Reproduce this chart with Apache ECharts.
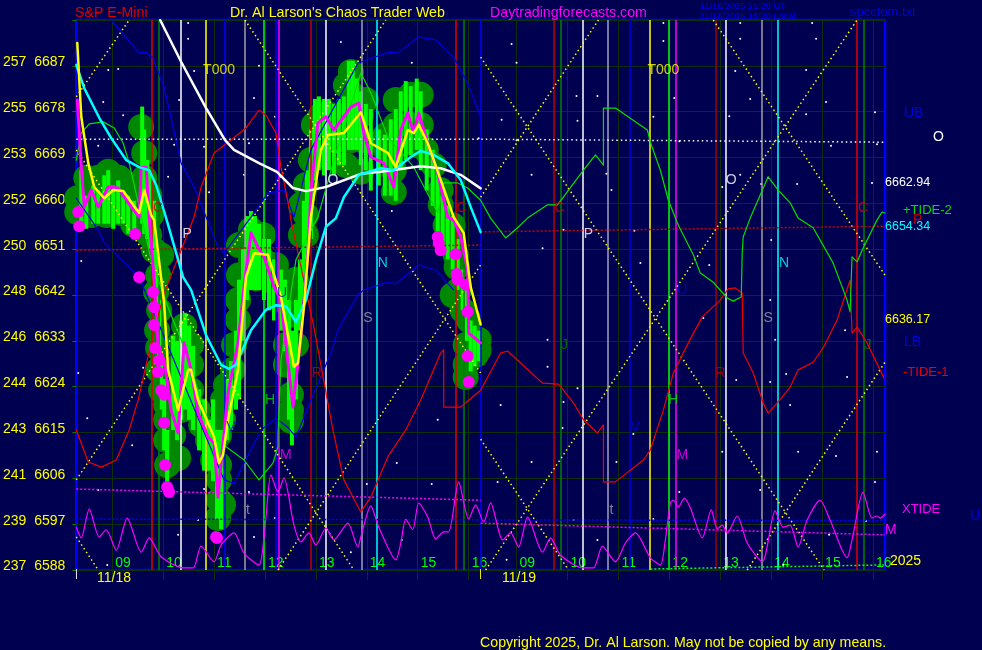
<!DOCTYPE html>
<html><head><meta charset="utf-8">
<style>html,body{margin:0;padding:0;background:#000050}#c{width:982px;height:650px}</style>
<script src="https://cdn.jsdelivr.net/npm/echarts@6/dist/echarts.min.js"></script>
</head><body><div id="c"></div>
<script>
// Horizontal axis unit: one chart bar. Vertical axis: S&P E-Mini price.
const priceTicks=[6588,6597,6606,6615,6624,6633,6642,6651,6660,6669,6678,6687];
const degreeTicks=[237,239,241,243,244,246,248,250,252,253,255,257];
const hourTicks=[36,87,138,189,240,291,342,393,441,492,543,594,645,696,747,798];
const hourLabels=['09','10','11','12','13','14','15','16','09','10','11','12','13','14','15','16'];
const verticalBars=[76,83,105,130,149,169,188,200,203,235,250,286,301,380,388,405,478,485,507,532,554,574,593,600,640,650,687,703,782,789];
const verticalColors=['#e00000','#008000','#ffffff','#ffff00','#0000ff','#a0a0a0','#00ff00','#0000ff','#ff00ff','#c00000','#ffffff','#a0a0c0','#00ffff','#e00000','#008000','#0000ff','#c00000','#008000','#ffffff','#a0a0c0','#0000e0','#ffff00','#00ff00','#ff00ff','#a00000','#ffffff','#a0a0a0','#00ffff','#e00000','#008000'];

const closeLine=[[1,6680.3],[5,6667.1],[8,6659.3],[15,6662.6],[22,6659.3],[32,6663.2],[42,6663],[55,6659.3],[63,6657.3],[65,6667.1],[70,6667.1],[73,6657.3],[78,6644.9],[82,6631.8],[88,6629.2],[95,6619.4],[102,6614.9],[108,6632.6],[115,6627.3],[122,6618.8],[132,6614.1],[138,6612.9],[142,6602.3],[145,6609],[152,6622.8],[162,6632.6],[168,6643.6],[175,6654.2],[182,6651.4],[188,6649.5],[198,6643.6],[205,6641],[217,6620],[225,6633.8],[232,6650.2],[235,6662],[242,6675.8],[250,6677],[258,6674.4],[268,6677],[275,6678.9],[283,6679.7],[288,6673.8],[295,6669.1],[308,6667.9],[318,6663.2],[325,6674.4],[332,6677.7],[338,6673.8],[343,6677.7],[352,6671.8],[362,6666],[372,6657.3],[378,6656.7],[385,6653.4],[392,6646.9],[393,6634.5],[405,6632.6]];
const fastAverage=[[1,6691.5],[5,6677],[12,6667.9],[18,6663.2],[28,6661],[37,6662.6],[47,6662.4],[63,6658.1],[68,6662.6],[75,6657.7],[78,6656.7],[88,6640.4],[92,6627.3],[102,6619.4],[112,6627.3],[115,6627.3],[122,6621.4],[138,6614.1],[143,6609],[147,6610.6],[152,6617.5],[162,6627.3],[170,6645.5],[178,6650.2],[192,6649.9],[205,6641.6],[218,6627.9],[222,6628.6],[228,6639.6],[235,6657.3],[245,6670.5],[252,6673.4],[268,6673.8],[285,6677.9],[295,6671.8],[312,6669.9],[320,6667.1],[332,6674.4],[338,6673.8],[343,6675.4],[352,6671.8],[365,6664.6],[378,6657.3],[388,6654.2],[395,6643.6],[405,6636.2]];
const cyanAverage=[[0,6687.2],[8,6682.6],[23,6676.8],[35,6672.8],[50,6668.5],[63,6667.1],[73,6666.5],[80,6663.6],[90,6657.1],[107,6645.5],[115,6643],[130,6634.1],[145,6628.3],[153,6627.5],[160,6628.3],[175,6635.1],[190,6639.1],[200,6640],[210,6639.8],[220,6636.7],[230,6641],[240,6648.9],[250,6655.4],[260,6657.1],[268,6661.2],[283,6665.6],[305,6666.9],[318,6666.5],[335,6669.1],[345,6670.3],[358,6669.5],[372,6667.9],[385,6664.6],[395,6659.3],[405,6654.34]];
const whiteAverage=[[84,6696],[105,6687.8],[130,6678.7],[149,6672.4],[158,6670.5],[183,6667.9],[201,6666.2],[217,6663],[230,6662.4],[250,6663.2],[285,6665.8],[305,6666.2],[345,6667.3],[365,6666.9],[385,6665.6],[405,6662.94]];
const tideTwo=[[0,6668.5],[5,6673.8],[13,6675.6],[27,6676],[38,6674.8],[47,6671.8],[53,6667.9],[63,6659.3],[75,6648.9],[93,6639],[105,6633.2],[138,6613.9],[150,6612.2],[168,6609.6],[183,6605.7],[197,6609],[202,6612.2],[202,6614.5],[205,6629.2],[220,6648.9],[242,6657.3],[258,6668.5],[285,6685.6],[295,6681.7],[312,6673],[338,6667.1],[362,6658.1],[368,6664],[382,6664],[392,6663],[405,6660.6],[415,6657.1],[430,6653.2],[442,6655.2],[452,6657.1],[472,6659.7],[482,6659.7],[508,6666.5],[520,6669.5],[528,6667.5],[528,6678.7],[540,6678.7],[572,6674.4],[575,6672],[585,6666.5],[593,6660.6],[603,6655.7],[618,6649.9],[625,6646.3],[638,6644.5],[652,6641.4],[658,6640.8],[666,6641.6],[667,6650.2],[668,6653.4],[675,6657.1],[693,6665.2],[703,6662.6],[715,6660.1],[723,6657.1],[738,6655.2],[758,6648.3],[772,6641],[775,6638.7],[777,6649.5],[782,6648.5],[788,6651.2],[802,6656.7],[807,6658.3],[810,6658.1]];
const tideOne=[[0,6615.5],[12,6609.2],[25,6608.2],[40,6609.6],[53,6615.5],[62,6621.4],[75,6632.6],[88,6642.4],[105,6650.8],[118,6657.3],[125,6663.2],[138,6669.9],[152,6672],[170,6674.8],[183,6678.3],[190,6677.3],[200,6673.8],[205,6667.1],[213,6659.3],[215,6656.7],[238,6635.7],[257,6615.5],[268,6605.7],[285,6599.4],[295,6602.3],[312,6610.2],[330,6615.5],[345,6621.4],[365,6630.6],[368,6631.2],[368,6620],[385,6620],[405,6623.3],[425,6630.6],[432,6631],[442,6629.2],[467,6624.7],[483,6624.5],[498,6620.8],[508,6617.5],[522,6614.9],[528,6616.5],[528,6605.3],[540,6605.3],[568,6609.6],[575,6611.6],[588,6619.4],[598,6626.7],[613,6632.6],[627,6637.7],[645,6641],[653,6643.2],[660,6643.4],[667,6642.4],[668,6630.6],[678,6626.7],[688,6620.8],[693,6618.8],[703,6621],[715,6623.9],[723,6627.3],[738,6628.8],[748,6631.6],[762,6637.1],[775,6644.9],[777,6634.5],[782,6635.7],[792,6632.6],[805,6627.3],[809,6625.7]];
const upperBand=[[35,6696],[63,6689.5],[70,6689.7],[77,6688.5],[88,6682.8],[105,6667.9],[118,6663.2],[130,6657.3],[142,6651.4],[148,6650.2],[175,6657.3],[192,6662],[208,6662.6],[218,6657.3],[235,6670.5],[282,6687.5],[313,6689.7],[322,6689.5],[343,6692.7],[360,6692.1],[378,6688.7],[392,6683.6],[405,6677]];
const lowerBand=[[0,6661],[22,6654.8],[28,6652.2],[63,6645.5],[148,6605.7],[158,6605],[168,6609],[185,6615.5],[200,6617.8],[212,6616],[220,6614.1],[235,6621.4],[255,6630.6],[262,6635.1],[282,6642],[288,6643],[312,6644.5],[320,6644.2],[343,6647.9],[360,6646.9],[378,6643]];
const xTide=[[0,6596.4],[5,6594.3],[13,6600],[23,6594.5],[30,6595.9],[40,6591.9],[51,6598.2],[65,6591.5],[73,6594.3],[85,6590.6],[107,6588.4],[117,6588.4],[125,6592.7],[138,6589.6],[145,6592.9],[158,6595.3],[168,6591.3],[183,6589],[188,6594.3],[190,6598.4],[195,6606.7],[202,6603.3],[208,6606.1],[218,6596.8],[225,6593.5],[233,6595.3],[240,6592.9],[250,6596.2],[258,6593.9],[272,6597.2],[282,6592.5],[285,6594.5],[295,6600.6],[303,6596.4],[320,6590],[325,6593.3],[330,6598],[337,6595.9],[343,6601.2],[352,6598.4],[360,6594.1],[368,6595.5],[373,6595.5],[383,6605.3],[393,6598],[400,6600.8],[408,6597.4],[415,6601.2],[427,6593.9],[435,6595.3],[443,6592.5],[452,6598.4],[467,6591.5],[475,6594.3],[485,6590.9],[508,6588.4],[518,6588.4],[527,6592.7],[540,6589.6],[550,6593.3],[560,6595.3],[575,6590.4],[585,6589],[590,6593.9],[595,6601.2],[598,6601.7],[603,6600.4],[609,6602.1],[615,6600.2],[627,6594.3],[636,6599.8],[642,6596.1],[647,6596.8],[652,6595.3],[662,6598.6],[672,6593.3],[687,6589.6],[700,6599.6],[708,6596.4],[715,6596.8],[723,6592.5],[732,6597.8],[745,6601.7],[755,6597.8],[772,6590.4],[777,6593.9],[788,6603.3],[797,6598.2],[802,6598.6],[805,6598.2],[810,6599]];
const bubblePoints=[[1,6661],[1,6658.3],[10,6665],[10,6660.6],[15,6657.7],[22,6665],[22,6661],[30,6657.7],[32,6666.2],[33,6661.6],[43,6665],[45,6661],[45,6658.1],[55,6663.6],[57,6658.7],[57,6655.9],[65,6675],[68,6669.9],[68,6665],[73,6661.6],[75,6657.7],[73,6653.8],[78,6650.8],[85,6649.8],[82,6645.9],[80,6642.6],[83,6639],[81,6635.1],[82,6631.6],[82,6627.3],[85,6623.3],[90,6620.4],[90,6617.5],[90,6613.5],[97,6614.5],[91,6608.6],[102,6610],[108,6635.9],[103,6632.2],[115,6632.2],[103,6628.3],[115,6628.3],[100,6623.3],[115,6623.3],[105,6619.4],[122,6619.4],[132,6613.5],[143,6614.5],[125,6616.5],[137,6609.6],[143,6608.6],[143,6601.7],[143,6605.7],[147,6600.8],[142,6598.2],[147,6621.4],[147,6617.5],[150,6624.3],[157,6627.3],[158,6632.2],[162,6637.1],[162,6641],[163,6645.9],[163,6651.8],[175,6654.8],[187,6653.8],[175,6648.9],[187,6648.9],[180,6645.3],[198,6644.6],[200,6647.9],[205,6641],[220,6645],[218,6641],[215,6638.1],[220,6632.2],[210,6632.2],[210,6628.3],[215,6622.4],[215,6619.4],[215,6617.3],[225,6653.8],[230,6653.8],[230,6657.7],[225,6659.7],[230,6663.6],[235,6668.5],[238,6675.4],[245,6677.3],[255,6677.3],[270,6677.3],[285,6677.3],[290,6680.3],[275,6685.8],[270,6683.2],[277,6681.3],[260,6672.4],[275,6672.4],[287,6672.4],[270,6667.5],[285,6666.2],[310,6673.4],[310,6670.5],[318,6666.5],[318,6662.2],[320,6680.3],[335,6681.3],[345,6681.3],[320,6675.4],[335,6675.4],[345,6675.4],[340,6671.5],[350,6670.5],[358,6667.5],[365,6662.6],[365,6659.7],[370,6655.7],[377,6655.7],[375,6652.8],[380,6649.8],[381,6647.5],[383,6643],[377,6642],[387,6639],[393,6637.1],[390,6632.2],[403,6633.2],[403,6631.2],[400,6630.2],[390,6628.3],[390,6625.9]];
const rangeBars=[[5,6655,6666.5],[10,6655,6661.5],[17,6656,6663.5],[22,6656,6662.5],[28,6656,6665.5],[32,6656,6666.5],[37,6655,6663.5],[42,6656,6664.5],[47,6656,6662.5],[52,6654,6661.5],[58,6653,6660.5],[66,6656,6679],[68,6654,6674.5],[71,6653,6668.5],[74,6651,6666.5],[78,6645,6660.5],[81,6637,6651],[83,6627,6641],[85,6619.5,6631],[88,6611.5,6625.5],[91,6603.5,6615.5],[97,6615.5,6634],[101,6613.5,6633],[105,6617.5,6637],[109,6619.5,6638.5],[113,6617.5,6636],[117,6615.5,6632],[123,6611.5,6623.5],[128,6607.5,6621.5],[133,6607.5,6617.5],[137,6605.5,6621.5],[141,6598,6615.5],[145,6596,6615.5],[151,6613.5,6625.5],[155,6615.5,6629],[160,6619.5,6635],[163,6621.5,6645],[167,6633,6651],[171,6641,6657.5],[175,6643,6658.5],[179,6643,6657.5],[183,6643,6656],[188,6641,6653],[193,6639,6653],[198,6637,6649],[205,6635,6647],[209,6631,6645],[213,6617.5,6641],[216,6612.5,6635],[220,6621.5,6641],[224,6635,6649],[228,6641,6660.5],[231,6649,6666.5],[235,6653,6674.5],[239,6664.5,6680.5],[243,6666.5,6681],[248,6665.5,6680.5],[253,6666.5,6680.5],[258,6665.5,6679.5],[263,6667.5,6680.5],[268,6667.5,6681],[273,6670.5,6688],[277,6670.5,6688],[281,6670.5,6684.5],[285,6667.5,6682],[290,6666.5,6679.5],[295,6662.5,6678.5],[303,6663.5,6674.5],[309,6661.5,6673.5],[315,6661.5,6676.5],[320,6660.5,6678.5],[325,6666.5,6682],[330,6668.5,6684],[335,6669.5,6683],[341,6670.5,6684.5],[345,6666.5,6682],[351,6662.5,6674.5],[357,6659.5,6670.5],[362,6653,6666.5],[367,6651,6662.5],[372,6649,6659.5],[377,6647,6657.5],[382,6643,6653],[387,6639,6647],[391,6633,6643],[395,6627,6637],[399,6628,6636],[403,6629,6635]];
const pivotDots=[[2,6658.3],[3,6655.5],[59,6654],[63,6645.5],[77,6642.6],[78,6639.6],[78,6636.1],[79,6631.6],[83,6629.2],[82,6626.9],[85,6623.3],[88,6622.4],[88,6616.9],[89,6608.6],[91,6604.3],[93,6603.3],[140,6594.5],[141,6594.3],[362,6653.4],[363,6652.2],[365,6650.8],[380,6650],[381,6646.1],[382,6645],[390,6644],[392,6638.7],[392,6630],[393,6624.9]];
const stars=[[112,6695.4],[112,6692.3],[32,6686.2],[42,6686.4],[118,6686],[27,6679.9],[103,6680.3],[47,6677.3],[178,6680.7],[199,6677],[22,6671.3],[98,6671.5],[128,6671.1],[173,6671.8],[183,6687],[168,6665.6],[92,6665.2],[133,6662.2],[240,6658.3],[5,6648.7],[2,6626.7],[11,6617.8],[67,6627.7],[98,6628.3],[230,6632],[56,6612.5],[22,6603.7],[31,6589],[102,6594.9],[122,6597.8],[128,6603.9],[173,6603.3],[178,6594.5],[199,6598.2],[265,6691.7],[436,6691.3],[441,6687.6],[336,6687.6],[501,6681.1],[522,6681.1],[426,6676.4],[502,6676.2],[403,6672.8],[441,6672.4],[456,6665.6],[531,6665.8],[536,6662.6],[316,6658.5],[467,6651.2],[488,6654.8],[559,6654.6],[565,6648.3],[472,6633.2],[472,6627.9],[502,6623.7],[425,6620.4],[488,6621],[487,6615.9],[558,6614.7],[541,6609.2],[362,6617.5],[321,6609],[456,6609.2],[356,6604.9],[422,6605.3],[326,6593.9],[431,6590],[291,6604.9],[275,6591.5],[522,6593.9],[498,6597.8],[588,6695.4],[588,6691.9],[599,6680.7],[578,6677],[665,6695.4],[665,6692.3],[660,6686],[675,6680.5],[654,6677.1],[604,6672.2],[665,6665.6],[731,6686.2],[737,6695.4],[741,6692.3],[751,6679.9],[731,6677.5],[800,6677.9],[802,6671.6],[756,6671.3],[797,6664],[722,6663.8],[647,6663.2],[686,6663.8],[693,6665],[634,6647.9],[628,6637.5],[696,6652.8],[695,6641],[700,6633.2],[711,6626.5],[661,6625.3],[695,6624.9],[772,6625.9],[715,6620.4],[770,6635.1],[604,6603.3],[647,6611.2],[723,6611.2],[685,6603.7],[761,6610.4],[802,6611.2],[800,6605.3],[578,6598],[754,6594.9],[708,6589],[791,6597.6]];
const gannLines=[[[0,6680.9],[53,6696]],[[0,6670.5],[278,6588]],[[0,6605.7],[310,6696]],[[0,6594.5],[22,6588]],[[169,6696],[405,6626.7]],[[202,6588],[405,6647.9]],[[405,6688.7],[749,6588]],[[410,6588],[782,6696]],[[405,6661.2],[523,6696]],[[405,6613.7],[493,6588]],[[638,6696],[810,6645.9]],[[672,6588],[810,6628.8]]];
const levelWhite=[[0,6672.6],[405,6672.6],[810,6672]];
const levelRedA=[[0,6650.8],[405,6651.8]];
const levelRedB=[[405,6654.4],[810,6655.5]];
const levelMagentaA=[[0,6603.9],[405,6601.7]];
const levelMagentaB=[[405,6597.2],[810,6594.9]];
const levelBlue=[[0,6598],[810,6597.7]];
const levelGreen=[[575,6588.2],[810,6589]];
const markerTexts=['T000','T000','P','P','O','O','N','N','S','S','C','C','C','C','R','R','H','H','M','M','J','J','t','t','U','U','V','V'];
const markerColors=['#ffff00','#ffff00','#ffffff','#ffffff','#ffffff','#ffffff','#00ffff','#00ffff','#a0a0a0','#a0a0a0','#e00000','#e00000','#e00000','#e00000','#c00000','#c00000','#00e000','#00e000','#ff00ff','#ff00ff','#008000','#008000','#a0a0a0','#a0a0a0','#0000e0','#0000e0','#0000e0','#0000e0'];
const markerPoints=[[143,6686.2],[588,6686.2],[111,6654],[513,6654],[257,6664.6],[656,6664.6],[307,6648.3],[709,6648.3],[292,6637.5],[693,6637.5],[82,6659],[386,6659],[484,6659],[788,6659],[241,6626.7],[645,6626.7],[194,6621.4],[598,6621.4],[210,6610.6],[607,6610.6],[489,6632.2],[793,6632.2],[172,6599.8],[536,6599.8],[206,6642.4],[607,6643],[155,6616],[560,6616]];

const font='"Liberation Sans", Arial, sans-serif';
function line(data,color,width,z,extra){
  return Object.assign({type:'line',data,symbol:'none',silent:true,animation:false,z,
    lineStyle:{color,width,cap:'round',join:'round'}},extra||{});
}
function dotted(data,color,z,dash){
  return {type:'line',data,symbol:'none',silent:true,animation:false,z,
    lineStyle:{color,width:1.5,type:dash||[1.5,3]}};
}
const series=[];
series.push({type:'scatter',data:stars,symbolSize:2,silent:true,animation:false,z:1,itemStyle:{color:'#ffffff',opacity:1}});
series.push({type:'scatter',data:bubblePoints,symbolSize:26,silent:true,animation:false,z:2,itemStyle:{color:'#008800',opacity:1}});
series.push({type:'custom',data:rangeBars,silent:true,animation:false,z:3,encode:{x:0,y:[1,2]},
  renderItem:function(p,api){
    const a=api.coord([api.value(0),api.value(1)]),b=api.coord([api.value(0),api.value(2)]);
    return {type:'line',shape:{x1:a[0],y1:a[1],x2:b[0],y2:b[1]},style:{stroke:'#00ff00',lineWidth:4}};
  }});
series.push({type:'line',data:[],silent:true,animation:false,z:4,
  markLine:{silent:true,animation:false,symbol:'none',label:{show:false},
    data:verticalBars.map((v,i)=>({xAxis:v,lineStyle:{color:verticalColors[i],width:1.5,type:'solid'}}))}});
gannLines.forEach(g=>series.push(dotted(g,'#ffff00',5)));
series.push(dotted(levelWhite,'#ffffff',5));
series.push(dotted(levelRedA,'#d00000',5,[2,2]));
series.push(dotted(levelRedB,'#d00000',5,[2,2]));
series.push(dotted(levelMagentaA,'#ff00ff',5,[2,2]));
series.push(dotted(levelMagentaB,'#ff00ff',5,[2,2]));
series.push(dotted(levelBlue,'#0000ff',5,[2,2]));
series.push(dotted(levelGreen,'#00ff00',5,[2,2]));
series.push(line(upperBand,'#0000e0',1.2,6));
series.push(line(lowerBand,'#0000e0',1.2,6));
series.push(line(tideOne,'#f00000',1.2,6));
series.push(line(tideTwo,'#00e000',1.2,6));
series.push(line(xTide,'#ff00ff',1.2,6,{smooth:0.25}));
series.push(line(closeLine,'#ff00ff',3,7));
series.push({type:'scatter',data:pivotDots,symbolSize:12,silent:true,animation:false,z:8,itemStyle:{color:'#ff00ff',opacity:1}});
series.push(line(whiteAverage,'#ffffff',2.5,9));
series.push(line(cyanAverage,'#00ffff',2.5,9));
series.push(line(fastAverage,'#ffff00',2.5,10));
series.push({type:'scatter',silent:true,animation:false,z:11,symbolSize:0,
  data:markerPoints.map((p,i)=>({value:p,label:{show:true,position:'inside',formatter:markerTexts[i],color:markerColors[i],fontFamily:font,fontSize:14}}))});

function txt(x,y,t,fill,size){
  return {type:'text',silent:true,z:50,x,y,style:{text:t,fill,font:(size||14)+'px '+font,textVerticalAlign:'middle'}};
}
const chart=echarts.init(document.getElementById('c'),null,{renderer:'canvas'});
chart.setOption({
  animation:false,backgroundColor:'#000050',
  grid:{left:75,top:20,width:810,height:550,show:true,borderColor:'#0000ff',borderWidth:2.5,backgroundColor:'transparent'},
  xAxis:{type:'value',min:0,max:810,
    axisLine:{show:false},
    axisTick:{show:true,customValues:hourTicks,length:10,lineStyle:{color:'#0c300c',width:1}},
    splitLine:{show:true,lineStyle:{color:'#0c300c',width:1}},
    axisLabel:{show:true,inside:true,customValues:hourTicks,align:'left',margin:0,padding:[0,0,0,3],hideOverlap:false,showMinLabel:true,showMaxLabel:true,
      color:'#00ff00',fontFamily:font,fontSize:14,
      formatter:v=>{const i=hourTicks.indexOf(v);return i<0?'':hourLabels[i];}}},
  yAxis:{type:'value',min:6588,max:6696,interval:9,
    axisLine:{show:false},
    axisTick:{show:true,length:4,lineStyle:{color:'#008000',width:1}},
    splitLine:{show:true,lineStyle:{color:'#0c300c',width:1}},
    axisLabel:{margin:11,color:'#ffff00',fontFamily:font,fontSize:14,
      rich:{p:{color:'#ffff00',fontFamily:font,fontSize:14,padding:[0,0,7,0]}},
      formatter:v=>{const i=priceTicks.indexOf(v);return i<0?'':'{p|'+degreeTicks[i]+'  '+v+'}';}}},
  series,
  graphic:{elements:[
    txt(75,13,'S&P E-Mini','#e00000',14.2),
    txt(230,13,"Dr. Al Larson's Chaos Trader Web",'#ffff00',14.2),
    txt(490,13,'Daytradingforecasts.com','#ff00ff',14.2),
    txt(700,6,'11/18/2025 21:20 UT','#0000f0',9.2),
    txt(700,16,'11/18/2025 16:20 Local','#0000f0',9.2),
    txt(850,12,'spcctom.txt','#0000e0',13),
    txt(904,113,'UB','#0000e0'),
    txt(933,137,'O','#ffffff'),
    txt(885,183,'6662.94','#ffffff',12.5),
    txt(903,210,'+TIDE-2','#00e000',13),
    txt(913,220,'P','#c00000'),
    txt(885,227,'6654.34','#00ffff',12.5),
    txt(885,320,'6636.17','#ffff00',12.5),
    txt(904,342,'LB','#0000e0'),
    txt(903,372,'-TIDE-1','#f00000',13),
    txt(902,509,'XTIDE','#ff00ff',13),
    txt(970,516,'U','#0000e0'),
    txt(885,530,'M','#ff00ff'),
    txt(890,561,'2025','#ffff00'),
    txt(97,578,'11/18','#ffff00'),
    txt(502,578,'11/19','#ffff00'),
    txt(75,574,'|','#ffffff',11),
    txt(479,574,'|','#ffff00',11),
    txt(480,643,'Copyright 2025, Dr. Al Larson. May not be copied by any means.','#ffff00',14.2)
  ]}
});
</script></body></html>
